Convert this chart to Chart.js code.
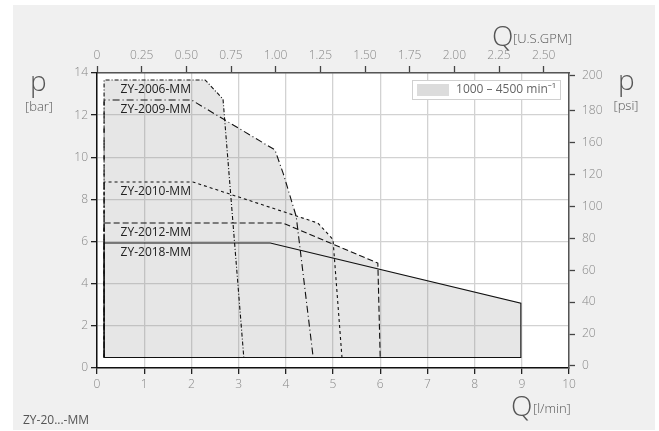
<!DOCTYPE html>
<html>
<head>
<meta charset="utf-8">
<script src="https://cdn.jsdelivr.net/npm/chart.js@4/dist/chart.umd.min.js"></script>
<style>
  html, body { margin: 0; padding: 0; background: #fff; }
  #wrap { width: 659px; height: 431px; }
</style>
</head>
<body>
<div id="wrap"><canvas id="chart"></canvas></div>
<script>
// Kennlinien (Q in l/min, p in bar)
const seriesNames = ["ZY-2006-MM", "ZY-2009-MM", "ZY-2010-MM", "ZY-2012-MM", "ZY-2018-MM"];

const zy2006Q = [0.15, 0.15, 2.29, 2.67, 3.11, 0.15];
const zy2006P = [0.5, 13.67, 13.67, 12.76, 0.5, 0.5];

const zy2009Q = [0.15, 0.15, 2.0, 3.77, 3.95, 4.22, 4.58, 0.15];
const zy2009P = [0.5, 12.72, 12.72, 10.35, 9.2, 7.2, 0.5, 0.5];

const zy2010Q = [0.15, 0.15, 2.03, 4.68, 5.0, 5.19, 0.15];
const zy2010P = [0.5, 8.83, 8.83, 6.88, 6.1, 0.5, 0.5];

const zy2012Q = [0.15, 0.15, 3.94, 5.95, 6.0, 0.15];
const zy2012P = [0.5, 6.88, 6.88, 4.98, 0.5, 0.5];

const zy2018Q = [0.15, 0.15, 3.67, 8.98, 8.98, 0.15];
const zy2018P = [0.5, 5.93, 5.93, 3.08, 0.5, 0.5];

// Achsen
const gpmTicks = [0, 0.25, 0.5, 0.75, 1.0, 1.25, 1.5, 1.75, 2.0, 2.25, 2.5];
const psiTickLabels = [0, 20, 40, 60, 80, 100, 120, 160, 180, 200];
const psiTickAt = [1.4, 23.4, 45.4, 67.4, 89.4, 111.4, 133.4, 155.4, 177.4, 201.6];
const legendText = "1000 – 4500 min⁻¹";

const LPM_PER_GPM = 3.78541;
const PSI_PER_BAR = 14.5038;

const qSeries = [zy2006Q, zy2009Q, zy2010Q, zy2012Q, zy2018Q];
const pSeries = [zy2006P, zy2009P, zy2010P, zy2012P, zy2018P];
const dashes = [[4, 2, 1, 2], [7, 3, 1, 3], [3, 3], [6, 3], []];

const FONT = '"Open Sans", "Noto Sans", sans-serif';

const datasets = seriesNames.map((name, i) => ({
    label: name,
    data: qSeries[i].map((q, k) => ({ x: q, y: pSeries[i][k] })),
    borderColor: "#111",
    borderWidth: 1.1,
    borderDash: dashes[i],
    pointRadius: 0,
    fill: false,
    tension: 0,
}));

// Hintergrund: grauer Rahmen, weisse Zeichenflaeche
const backgroundPlugin = {
    id: "bg",
    beforeDraw(chart) {
        const ctx = chart.ctx;
        const a = chart.chartArea;
        ctx.save();
        ctx.fillStyle = "#fff";
        ctx.fillRect(0, 0, chart.width, chart.height);
        ctx.fillStyle = "#f0f0f0";
        ctx.fillRect(13, 5, 642, 425);
        ctx.fillStyle = "#fff";
        ctx.fillRect(a.left, a.top, a.right - a.left, a.bottom - a.top);
        ctx.restore();
    },
};

// Gemeinsame graue Flaeche (Vereinigung aller Kennfelder)
const envelopePlugin = {
    id: "envelope",
    beforeDatasetsDraw(chart) {
        const ctx = chart.ctx;
        ctx.save();
        ctx.beginPath();
        chart.data.datasets.forEach((ds, i) => {
            const pts = chart.getDatasetMeta(i).data;
            pts.forEach((p, k) => (k === 0 ? ctx.moveTo(p.x, p.y) : ctx.lineTo(p.x, p.y)));
            ctx.closePath();
        });
        ctx.fillStyle = "rgba(128,128,128,0.2)";
        ctx.fill("nonzero");
        ctx.restore();
    },
};

// Beschriftungen, Legende, Achsentitel
const textPlugin = {
    id: "texts",
    afterDatasetsDraw(chart) {
        const ctx = chart.ctx;
        const x = chart.scales.x;
        const y = chart.scales.y;
        const a = chart.chartArea;
        ctx.save();

        // Typenbezeichnungen
        ctx.fillStyle = "#222";
        ctx.font = "12px " + FONT;
        ctx.textAlign = "left";
        ctx.textBaseline = "middle";
        seriesNames.forEach((name, i) => {
            const top = Math.max(...pSeries[i]);
            ctx.fillText(name, x.getPixelForValue(0.5), y.getPixelForValue(top - 0.47));
        });

        // Legende
        const lx = a.right - 157, ly = a.top + 7;
        ctx.fillStyle = "#fff";
        ctx.fillRect(lx, ly, 148, 19);
        ctx.strokeStyle = "#d0d0d0";
        ctx.lineWidth = 1;
        ctx.strokeRect(lx + 0.5, ly + 0.5, 148, 19);
        ctx.fillStyle = "#dcdcdc";
        ctx.fillRect(lx + 5, ly + 4, 32, 12);
        ctx.fillStyle = "#666";
        ctx.font = "12px " + FONT;
        ctx.textAlign = "right";
        ctx.fillText(legendText, lx + 144, ly + 10);

        // Achsentitel
        ctx.fillStyle = "#555";
        ctx.textBaseline = "alphabetic";
        ctx.textAlign = "left";
        ctx.font = "300 28px " + FONT;
        ctx.fillText("p", 30, 91);
        ctx.fillText("p", 618, 90);
        ctx.fillText("Q", 492, 46);
        ctx.fillText("Q", 511, 416);
        ctx.font = "300 13px " + FONT;
        ctx.textAlign = "center";
        ctx.fillText("[bar]", 39, 111);
        ctx.fillText("[psi]", 626, 110);
        ctx.textAlign = "left";
        ctx.fillText("[U.S.GPM]", 513, 43);
        ctx.fillText("[l/min]", 533, 413);

        ctx.font = "12px " + FONT;
        ctx.fillStyle = "#555";
        ctx.fillText("ZY-20...-MM", 23, 424);
        ctx.restore();
    },
};

const tickFont = { family: FONT, size: 12, weight: "300" };

new Chart(document.getElementById("chart").getContext("2d"), {
    type: "line",
    data: { datasets: datasets },
    plugins: [backgroundPlugin, envelopePlugin, textPlugin],
    options: {
        responsive: true,
        maintainAspectRatio: false,
        animation: false,
        layout: { padding: 0 },
        plugins: {
            legend: { display: false },
            tooltip: { enabled: false },
        },
        scales: {
            x: {
                type: "linear",
                position: "bottom",
                min: 0,
                max: 10,
                ticks: { stepSize: 1, color: "#888", font: tickFont, padding: 3 },
                grid: { color: "#d2d2d2", lineWidth: 1.3, tickLength: 6, tickColor: "#222", tickWidth: 1.3 },
                border: { color: "#111", width: 1.5 },
                afterFit: (s) => { s.height = 63; },
            },
            x2: {
                type: "linear",
                position: "top",
                min: 0,
                max: 10 / LPM_PER_GPM,
                afterBuildTicks: (s) => { s.ticks = gpmTicks.map((v) => ({ value: v })); },
                ticks: {
                    color: "#888",
                    font: tickFont,
                    padding: 3,
                    callback: (v) => (v === 0 ? "0" : v.toFixed(2)),
                },
                grid: { drawOnChartArea: false, tickLength: 7, tickColor: "#444", tickWidth: 1.3 },
                border: { color: "#555", width: 1.5 },
                afterFit: (s) => { s.height = 73; },
            },
            y: {
                type: "linear",
                position: "left",
                min: 0,
                max: 14,
                ticks: { stepSize: 2, color: "#888", font: tickFont, padding: 3 },
                grid: { color: "#d2d2d2", lineWidth: 1.3, tickLength: 6, tickColor: "#222", tickWidth: 1.3 },
                border: { color: "#111", width: 1.5 },
                afterFit: (s) => { s.width = 97; },
            },
            y2: {
                type: "linear",
                position: "right",
                min: 0,
                max: 14 * PSI_PER_BAR,
                afterBuildTicks: (s) => { s.ticks = psiTickAt.map((v) => ({ value: v })); },
                ticks: {
                    color: "#888",
                    font: tickFont,
                    padding: 7,
                    callback: (v, i) => String(psiTickLabels[i]),
                },
                grid: { drawOnChartArea: false, tickLength: 6, tickColor: "#444", tickWidth: 1.3 },
                border: { color: "#555", width: 1.5 },
                afterFit: (s) => { s.width = 90; },
            },
        },
    },
});
</script>
</body>
</html>
